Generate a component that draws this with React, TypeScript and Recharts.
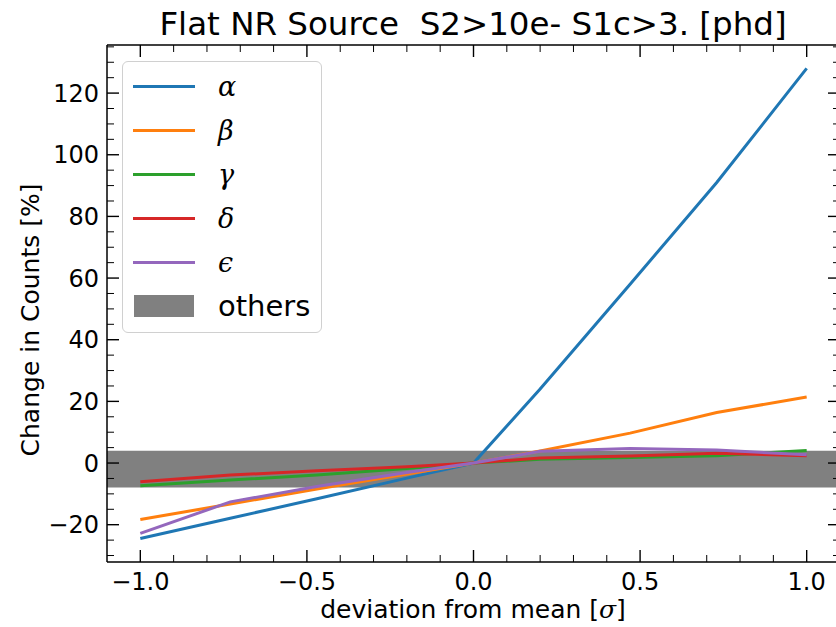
import {
    LineChart,
    Line,
    XAxis,
    YAxis,
    ReferenceArea,
    Legend,
} from "recharts";

// deviation from mean [sigma] at which each variation was evaluated
const deviations = [-1, -0.73, -0.47, -0.2, 0, 0.2, 0.47, 0.73, 1];

// change in counts [%] per parameter
const alphaChange = [-24.5, -17.9, -11.6, -4.9, 0, 24, 58, 91, 128];
const betaChange = [-18.3, -13.3, -8.4, -3.6, 0, 3.9, 9.7, 16.4, 21.4];
const gammaChange = [-7.4, -5.5, -3.9, -1.8, 0, 1.2, 1.8, 2.4, 4.1];
const deltaChange = [-6.1, -3.9, -2.5, -1.2, 0, 1.6, 2.3, 3.2, 2.4];
const epsilonChange = [-22.8, -12.6, -7.6, -3.1, 0, 3.8, 4.7, 4.2, 2.7];

// envelope of all the other parameters
const othersLow = -7.9;
const othersHigh = 4.0;

const xMajorTicks = [-1, -0.5, 0, 0.5, 1];
const xTickLabels = ["−1.0", "−0.5", "0.0", "0.5", "1.0"];
const xMinorTicks = [
    -0.9, -0.8, -0.7, -0.6, -0.4, -0.3, -0.2, -0.1, 0.1, 0.2, 0.3, 0.4, 0.6,
    0.7, 0.8, 0.9,
];

const yMajorTicks = [-20, 0, 20, 40, 60, 80, 100, 120];
const yTickLabels = ["−20", "0", "20", "40", "60", "80", "100", "120"];
const yMinorTicks = [
    -30, -25, -15, -10, -5, 5, 10, 15, 25, 30, 35, 45, 50, 55, 65, 70, 75, 85,
    90, 95, 105, 110, 115, 125, 130, 135,
];

const SERIES = [
    { key: "alpha", label: "α", color: "#1f77b4", values: alphaChange },
    { key: "beta", label: "β", color: "#ff7f0e", values: betaChange },
    { key: "gamma", label: "γ", color: "#2ca02c", values: gammaChange },
    { key: "delta", label: "δ", color: "#d62728", values: deltaChange },
    { key: "epsilon", label: "ϵ", color: "#9467bd", values: epsilonChange },
];

const FONT = "'DejaVu Sans', sans-serif";
const MAJOR_LEN = 12;
const MINOR_LEN = 7;

interface TickProps {
    x?: number;
    y?: number;
    payload?: { value: number };
}

const indexIn = (list: number[], v: number) =>
    list.findIndex((m) => Math.abs(m - v) < 1e-9);

// matplotlib style ticks pointing into the plot
const makeTick =
    (side: "bottom" | "top" | "left" | "right") =>
    ({ x = 0, y = 0, payload }: TickProps) => {
        const v = payload ? payload.value : 0;
        const horizontal = side === "bottom" || side === "top";
        const i = indexIn(horizontal ? xMajorTicks : yMajorTicks, v);
        const major = i >= 0;
        const len = major ? MAJOR_LEN : MINOR_LEN;
        let line;
        if (side === "bottom") line = { x1: x, x2: x, y1: y, y2: y - len };
        else if (side === "top") line = { x1: x, x2: x, y1: y, y2: y + len };
        else if (side === "left") line = { x1: x, x2: x + len, y1: y, y2: y };
        else line = { x1: x, x2: x - len, y1: y, y2: y };

        let label = null;
        if (major && side === "bottom") {
            label = (
                <text
                    x={x}
                    y={y + 28}
                    textAnchor="middle"
                    fontSize={24}
                    fontFamily={FONT}
                    fill="#000"
                >
                    {xTickLabels[i]}
                </text>
            );
        }
        if (major && side === "left") {
            label = (
                <text
                    x={x - 8}
                    y={y + 8.5}
                    textAnchor="end"
                    fontSize={24}
                    fontFamily={FONT}
                    fill="#000"
                >
                    {yTickLabels[i]}
                </text>
            );
        }
        return (
            <g>
                <line {...line} stroke="#000" strokeWidth={major ? 1.4 : 1} />
                {label}
            </g>
        );
    };

const LegendBox = () => (
    <div
        style={{
            width: 200,
            height: 272,
            boxSizing: "border-box",
            border: "1px solid #d0d0d0",
            borderRadius: 6,
            background: "rgba(255,255,255,0.8)",
            paddingTop: 2,
        }}
    >
        {SERIES.map((s) => (
            <div
                key={s.key}
                style={{
                    height: 44,
                    display: "flex",
                    alignItems: "center",
                }}
            >
                <div
                    style={{
                        marginLeft: 10,
                        width: 62,
                        height: 3,
                        background: s.color,
                    }}
                />
                <span
                    style={{
                        marginLeft: 23,
                        fontFamily: "'DejaVu Serif', serif",
                        fontStyle: "italic",
                        fontSize: 27,
                        color: "#000",
                    }}
                >
                    {s.label}
                </span>
            </div>
        ))}
        <div style={{ height: 44, display: "flex", alignItems: "center" }}>
            <div
                style={{
                    marginLeft: 11,
                    width: 60,
                    height: 22,
                    background: "#808080",
                }}
            />
            <span
                style={{
                    marginLeft: 24,
                    fontFamily: FONT,
                    fontSize: 29,
                    color: "#000",
                }}
            >
                others
            </span>
        </div>
    </div>
);

export default function App() {
    const data = deviations.map((d, i) => {
        const row: Record<string, number> = { deviation: d };
        SERIES.forEach((s) => {
            row[s.key] = s.values[i];
        });
        return row;
    });

    const axisLine = { stroke: "#000", strokeWidth: 1.5 };

    return (
        <div
            style={{
                position: "absolute",
                left: 0,
                top: 0,
                width: 836,
                height: 627,
                overflow: "hidden",
                background: "#fff",
            }}
        >
            <LineChart
                width={850}
                height={627}
                data={data}
                margin={{ top: 44, right: 9, bottom: 64, left: 106 }}
            >
                <XAxis
                    xAxisId="main"
                    dataKey="deviation"
                    type="number"
                    domain={[-1.1, 1.1]}
                    allowDataOverflow
                    ticks={[...xMajorTicks, ...xMinorTicks]}
                    interval={0}
                    height={1}
                    tickSize={0}
                    tickMargin={0}
                    tickLine={false}
                    axisLine={axisLine}
                    tick={makeTick("bottom")}
                />
                <XAxis
                    xAxisId="top"
                    orientation="top"
                    dataKey="deviation"
                    type="number"
                    domain={[-1.1, 1.1]}
                    allowDataOverflow
                    ticks={[...xMajorTicks, ...xMinorTicks]}
                    interval={0}
                    height={1}
                    tickSize={0}
                    tickMargin={0}
                    tickLine={false}
                    axisLine={axisLine}
                    tick={makeTick("top")}
                />
                <YAxis
                    yAxisId="main"
                    type="number"
                    domain={[-32.1, 135.6]}
                    allowDataOverflow
                    ticks={[...yMajorTicks, ...yMinorTicks]}
                    interval={0}
                    width={1}
                    tickSize={0}
                    tickMargin={0}
                    tickLine={false}
                    axisLine={axisLine}
                    tick={makeTick("left")}
                />
                <YAxis
                    yAxisId="right"
                    orientation="right"
                    type="number"
                    domain={[-32.1, 135.6]}
                    allowDataOverflow
                    ticks={[...yMajorTicks, ...yMinorTicks]}
                    interval={0}
                    width={1}
                    tickSize={0}
                    tickMargin={0}
                    tickLine={false}
                    axisLine={axisLine}
                    tick={makeTick("right")}
                />
                <ReferenceArea
                    xAxisId="main"
                    yAxisId="main"
                    x1={-1.1}
                    x2={1.1}
                    y1={othersLow}
                    y2={othersHigh}
                    fill="#808080"
                    fillOpacity={1}
                    stroke="none"
                />
                {SERIES.map((s) => (
                    <Line
                        key={s.key}
                        xAxisId="main"
                        yAxisId="main"
                        type="linear"
                        dataKey={s.key}
                        stroke={s.color}
                        strokeWidth={3}
                        dot={false}
                        isAnimationActive={false}
                    />
                ))}
                <Legend
                    layout="vertical"
                    align="center"
                    verticalAlign="middle"
                    content={<LegendBox />}
                    wrapperStyle={{ left: 122, top: 61, width: 200 }}
                />
            </LineChart>
            <div
                style={{
                    position: "absolute",
                    left: 0,
                    width: 946,
                    top: 5,
                    textAlign: "center",
                    fontFamily: FONT,
                    fontSize: 32.5,
                    color: "#000",
                    whiteSpace: "pre",
                }}
            >
                {"Flat NR Source  S2>10e- S1c>3. [phd]"}
            </div>
            <div
                style={{
                    position: "absolute",
                    left: 0,
                    width: 946,
                    top: 597,
                    lineHeight: "25px",
                    textAlign: "center",
                    fontFamily: FONT,
                    fontSize: 25,
                    color: "#000",
                }}
            >
                deviation from mean [
                <span
                    style={{
                        fontFamily: "'DejaVu Serif', serif",
                        fontStyle: "italic",
                    }}
                >
                    σ
                </span>
                ]
            </div>
            <div
                style={{
                    position: "absolute",
                    left: 30,
                    top: 320,
                    transform: "translate(-50%, -50%) rotate(-90deg)",
                    fontFamily: FONT,
                    fontSize: 25,
                    color: "#000",
                    whiteSpace: "nowrap",
                }}
            >
                Change in Counts [%]
            </div>
        </div>
    );
}
